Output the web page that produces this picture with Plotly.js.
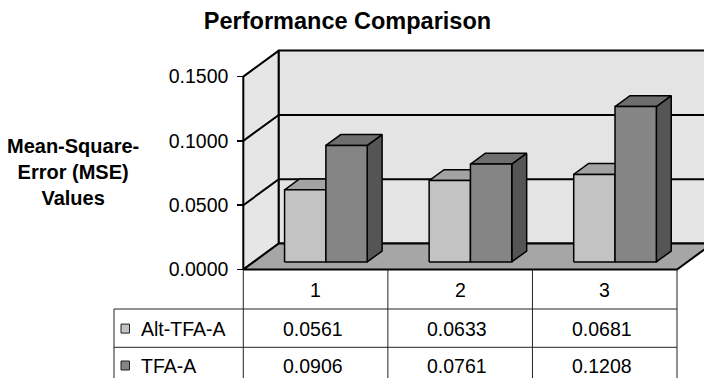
<!DOCTYPE html>
<html>
<head>
<meta charset="utf-8">
<script src="https://cdn.plot.ly/plotly-3.0.1.min.js"></script>
<style>
  html, body { margin: 0; padding: 0; background: #fff; }
  #chart { width: 704px; height: 378px; }
</style>
</head>
<body>
<div id="chart"></div>
<script>
// ---- data ----
const categories = ['1', '2', '3'];
const seriesNames = ['Alt-TFA-A', 'TFA-A'];
const altTfaA = [0.0561, 0.0633, 0.0681];
const tfaA = [0.0906, 0.0761, 0.1208];
const yTicks = [0, 0.05, 0.1, 0.15];

// ---- styling / geometry ----
const W = 704, H = 378;
const FONT = 'Liberation Sans, Arial, Helvetica, sans-serif';
const seriesValues = [altTfaA, tfaA];
const faceColors = [
  { front: '#c3c3c3', top: '#a3a3a3', side: '#8a8a8a' },
  { front: '#858585', top: '#6e6e6e', side: '#555555' }
];
const X0PX = 243.3, XUNIT = 144.57;     // category 0 left edge, px per category
const Y0PX = 269.5, YUNIT = 1286;       // value 0 on the front plane, px per unit
const DX = 35.5 / XUNIT;                // depth offset of the back plane (x)
const DY = 26 / YUNIT;                  // depth offset of the back plane (value)
const yMax = yTicks[yTicks.length - 1];
const nCat = categories.length;
const barW = 1 / 3.5;                   // gap width 150%
const barStart = 0.75 * barW;
const zFront = 0.29, zBack = 0.71;

const xRange = [-X0PX / XUNIT, (W - X0PX) / XUNIT];
const yRange = [-(H - Y0PX) / YUNIT, Y0PX / YUNIT];

function proj(x, v, z) { return [x + z * DX, v + z * DY]; }
function poly(points, fill, lw, lc) {
  const pts = points.concat([points[0]]);
  return {
    type: 'scatter', mode: 'lines',
    x: pts.map(p => p[0]), y: pts.map(p => p[1]),
    fill: fill ? 'toself' : 'none', fillcolor: fill || 'rgba(0,0,0,0)',
    line: { color: lc || '#000', width: lw },
    hoverinfo: 'skip', showlegend: false
  };
}
function polyline(points, lw) {
  return {
    type: 'scatter', mode: 'lines',
    x: points.map(p => p[0]), y: points.map(p => p[1]),
    line: { color: '#000', width: lw },
    hoverinfo: 'skip', showlegend: false
  };
}

const traces = [];
// walls and floor
traces.push(poly([proj(0, 0, 0), proj(0, 0, 1), proj(0, yMax, 1), proj(0, yMax, 0)], '#e6e6e6', 2));
traces.push(poly([proj(0, 0, 1), proj(nCat, 0, 1), proj(nCat, yMax, 1), proj(0, yMax, 1)], '#e4e4e4', 2));
yTicks.slice(1, -1).forEach(v => {
  traces.push(polyline([proj(0, v, 0), proj(0, v, 1), proj(nCat, v, 1)], 2));
});
traces.push(poly([proj(0, 0, 0), proj(nCat, 0, 0), proj(nCat, 0, 1), proj(0, 0, 1)], '#a6a6a6', 2));

// bars: side, top and front faces projected from each value
for (let i = 0; i < nCat; i++) {
  seriesValues.forEach((vals, s) => {
    const v = vals[i];
    const x0 = i + barStart + s * barW, x1 = x0 + barW;
    const c = faceColors[s];
    traces.push(poly([proj(x1, 0, zFront), proj(x1, 0, zBack), proj(x1, v, zBack), proj(x1, v, zFront)], c.side, 1.5));
    traces.push(poly([proj(x0, v, zFront), proj(x1, v, zFront), proj(x1, v, zBack), proj(x0, v, zBack)], c.top, 1.5));
    traces.push(poly([proj(x0, 0, zFront), proj(x1, 0, zFront), proj(x1, v, zFront), proj(x0, v, zFront)], c.front, 1.5));
  });
}

// ---- data table under the floor ----
const py = px => 1 - px / H;
const rowLines = [309, 347.3];
const rowCenters = [328.6, 365.5];
const tableLeft = 114;
const lineStyle = { color: '#222', width: 1 };
const shapes = [];
rowLines.forEach(r => shapes.push({
  type: 'line', xref: 'paper', yref: 'paper',
  x0: tableLeft / W, x1: (X0PX + nCat * XUNIT) / W, y0: py(r), y1: py(r), line: lineStyle
}));
for (let k = 0; k <= nCat; k++) {
  shapes.push({ type: 'line', xref: 'x', yref: 'paper', x0: k, x1: k, y0: py(Y0PX), y1: py(H + 5), line: lineStyle });
}
shapes.push({ type: 'line', xref: 'paper', yref: 'paper', x0: tableLeft / W, x1: tableLeft / W, y0: py(rowLines[0]), y1: py(H + 5), line: lineStyle });
seriesNames.forEach((n, s) => {
  shapes.push({
    type: 'rect', xref: 'paper', yref: 'paper',
    x0: 121 / W, x1: 129.5 / W, y0: py(rowCenters[s] - 4.5), y1: py(rowCenters[s] + 4.5),
    fillcolor: faceColors[s].front, line: { color: '#222', width: 1 }
  });
});

const tableFont = { family: FONT, size: 19.5, color: '#000' };
const annotations = [];
categories.forEach((c, i) => {
  annotations.push({ xref: 'x', yref: 'paper', x: i + 0.5, y: py(289.5), text: c,
    showarrow: false, xanchor: 'center', yanchor: 'middle', font: tableFont });
  seriesValues.forEach((vals, s) => {
    annotations.push({ xref: 'x', yref: 'paper', x: i + 0.48, y: py(rowCenters[s]), text: vals[i].toFixed(4),
      showarrow: false, xanchor: 'center', yanchor: 'middle', font: tableFont });
  });
});
seriesNames.forEach((n, s) => {
  annotations.push({ xref: 'paper', yref: 'paper', x: 138.5 / W, y: py(rowCenters[s]), text: n,
    showarrow: false, xanchor: 'left', yanchor: 'middle', font: tableFont });
});
// value axis title
annotations.push({ xref: 'paper', yref: 'paper', x: 73 / W, y: py(172), text: 'Mean-Square-<br>Error (MSE)<br>Values',
  showarrow: false, xanchor: 'center', yanchor: 'middle', align: 'center',
  font: { family: FONT, size: 20, color: '#000', weight: 'bold' } });

const layout = {
  width: W, height: H,
  margin: { l: 0, r: 0, t: 0, b: 0, pad: 0 },
  paper_bgcolor: '#ffffff', plot_bgcolor: '#ffffff',
  showlegend: false,
  title: { text: 'Performance Comparison', x: 347.5 / W, xanchor: 'center', xref: 'paper',
    y: 1 - 21 / H, yanchor: 'middle', yref: 'container',
    font: { family: FONT, size: 23.5, color: '#000', weight: 'bold' } },
  xaxis: { range: xRange, visible: false, fixedrange: true },
  yaxis: {
    range: yRange, anchor: 'free', position: X0PX / W, side: 'left',
    tickvals: yTicks, tickformat: '.4f', ticks: 'outside', ticklen: 6, tickwidth: 1.5, tickcolor: '#000',
    ticklabelstandoff: 5,
    showgrid: false, zeroline: false, showline: false, fixedrange: true,
    tickfont: { family: FONT, size: 19.5, color: '#000' }
  },
  shapes: shapes,
  annotations: annotations
};

Plotly.newPlot('chart', traces, layout, { staticPlot: true, displayModeBar: false });
</script>
</body>
</html>
